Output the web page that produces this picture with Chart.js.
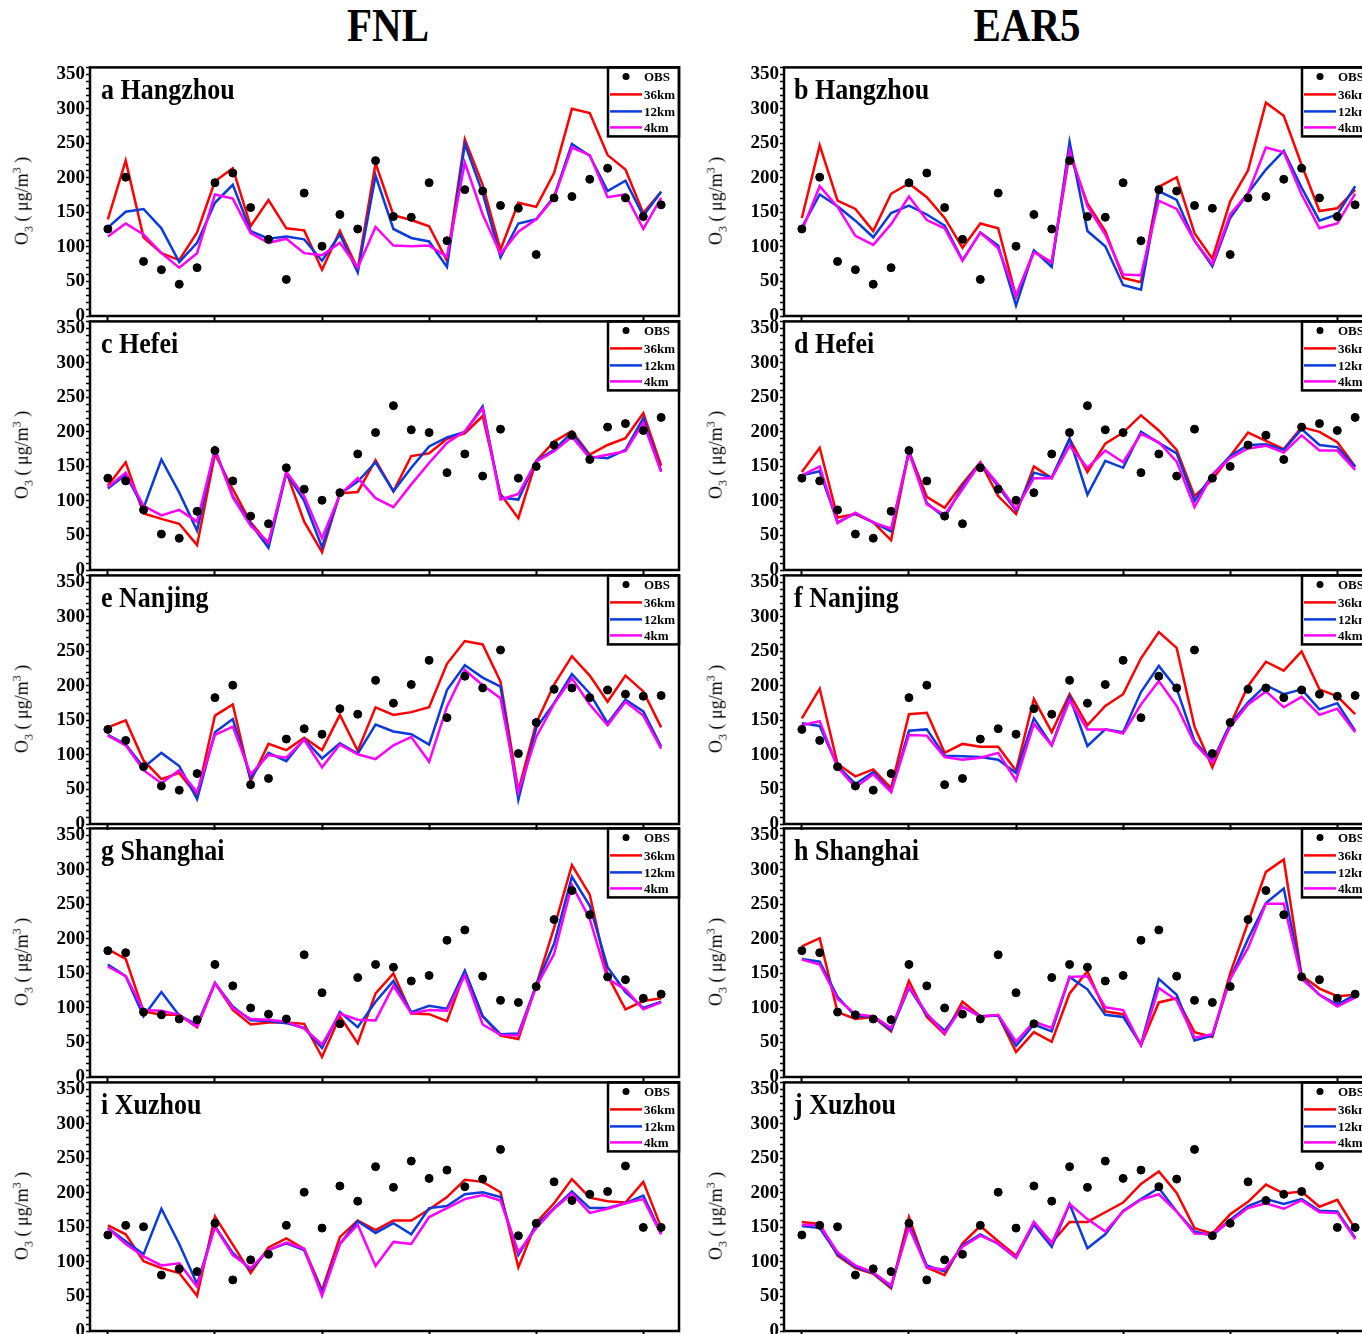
<!DOCTYPE html>
<html>
<head>
<meta charset="utf-8">
<script src="https://cdn.jsdelivr.net/npm/chart.js@4.4.1/dist/chart.umd.min.js"></script>
<style>
html, body { margin: 0; padding: 0; background: #fff; overflow: hidden; }
body { width: 1362px; height: 1334px; position: relative; }
canvas { position: absolute; }
.col-title { position: absolute; top: 8px; width: 300px; margin-left: -150px; text-align: center;
  font: bold 41px/41px "Liberation Serif", serif; color: #000; transform: scaleY(1.15); transform-origin: 50% 100%; }
.ytitle { position: absolute; white-space: nowrap; transform: translate(-50%, -50%) rotate(-90deg);
  font: 18px "Liberation Serif", serif; color: #000; }
.ytitle sub, .ytitle sup { font-size: 12px; }
</style>
</head>
<body>
<div class="col-title" style="left:388px">FNL</div>
<div class="col-title" style="left:1027px">EAR5</div>
<script>
// x positions (days) and the ticks shown on the x axis
var days = [1,2,3,4,5,6,7,8,9,10,11,12,13,14,15,16,17,18,19,20,21,22,23,24,25,26,27,28,29,30,31,32];
var majorDays = [1, 7, 13, 19, 25, 31];

// observed O3
var obsHangzhou = [126,201,79,67,46,70,193,207,157,111,53,178,101,147,126,225,144,143,193,109,183,181,160,156,89,171,173,198,214,171,144,161];
var obsHefei = [133,129,87,52,46,85,173,129,78,67,148,117,101,112,168,199,238,203,199,141,168,136,204,133,150,181,195,160,207,212,202,221];
var obsNanjing = [137,121,83,55,49,73,183,201,57,66,123,138,130,167,159,208,175,202,237,154,214,197,252,102,147,195,197,183,194,188,185,186];
var obsShanghai = [183,180,94,90,84,83,163,132,100,91,84,177,122,77,144,163,159,139,147,198,213,146,111,108,131,228,270,235,145,141,114,120];
var obsXuzhou = [139,153,151,81,90,86,156,74,103,111,153,201,149,210,188,238,208,246,221,233,209,220,263,138,156,216,189,198,202,239,150,150];

// FNL driven runs
var hangzhouFnl36 = [140,225,114,91,81,121,195,214,130,168,127,124,67,123,68,221,146,139,130,80,256,190,96,164,158,207,300,294,233,212,149,180];
var hangzhouFnl12 = [128,151,155,127,78,106,164,190,123,112,115,111,80,118,63,203,126,113,108,71,249,178,85,134,140,173,249,232,181,196,145,180];
var hangzhouFnl4 = [115,134,118,91,70,91,176,170,120,106,112,91,88,106,70,129,102,101,102,86,222,147,90,122,140,171,244,233,172,176,126,171];
var hefeiFnl36 = [122,156,82,74,67,36,168,117,69,38,142,70,26,111,113,159,114,165,169,190,198,223,110,75,158,186,201,167,181,191,227,151];
var hefeiFnl12 = [118,138,90,160,112,57,175,107,67,32,140,100,33,110,128,156,114,148,179,192,200,237,105,102,158,174,199,164,162,174,220,143];
var hefeiFnl4 = [120,141,93,79,87,70,174,105,64,40,142,107,46,109,133,104,91,124,155,184,201,234,102,110,157,172,193,162,167,172,213,142];
var nanjingFnl36 = [140,150,92,65,74,41,157,173,62,116,107,125,107,158,106,169,158,162,169,232,265,260,206,48,146,202,243,215,177,215,192,140];
var nanjingFnl12 = [129,115,82,103,84,36,133,152,67,103,91,123,95,117,102,144,134,130,115,194,230,212,199,35,139,175,217,189,146,180,163,112];
var nanjingFnl4 = [128,114,78,59,78,46,129,141,72,100,96,122,82,115,101,94,114,126,90,170,223,201,182,46,126,174,211,173,143,177,157,109];
var shanghaiFnl36 = [185,171,95,90,90,72,136,97,76,79,79,77,29,88,49,121,150,92,91,81,152,88,60,55,133,216,307,264,147,98,110,114];
var shanghaiFnl12 = [163,146,88,123,89,76,136,102,82,81,78,71,42,94,72,109,139,94,103,99,154,88,62,63,133,193,290,248,159,123,100,109];
var shanghaiFnl4 = [160,146,97,96,90,73,136,100,84,83,80,70,47,92,83,82,132,92,97,96,147,76,61,60,131,178,278,229,142,127,98,108];
var xuzhouFnl36 = [153,140,101,91,84,51,166,125,84,121,134,119,59,136,160,146,160,160,176,194,219,216,201,92,157,185,220,193,188,186,216,150];
var xuzhouFnl12 = [149,130,111,177,126,68,152,113,89,117,127,117,56,126,159,142,156,140,178,181,198,201,194,110,153,178,202,178,178,185,196,141];
var xuzhouFnl4 = [149,126,108,95,98,64,151,110,91,117,128,119,51,126,154,94,129,126,165,178,191,197,189,114,149,177,199,171,177,185,191,140];

// EAR5 driven runs
var hangzhouEra36 = [142,247,167,155,123,177,192,172,142,99,134,127,28,94,77,235,163,123,55,49,187,201,120,83,166,211,309,290,219,152,156,183];
var hangzhouEra12 = [128,176,159,138,114,149,160,147,131,81,121,102,15,95,71,252,123,101,45,38,181,168,109,72,142,178,212,239,186,138,147,188];
var hangzhouEra4 = [123,188,158,116,103,133,173,139,127,80,121,98,30,92,78,240,159,118,60,59,167,155,109,75,147,178,244,237,176,127,134,177];
var hefeiEra36 = [142,177,76,81,69,43,172,106,90,125,156,107,81,150,133,190,142,183,199,224,202,174,107,131,165,199,187,175,207,200,185,150];
var hefeiEra12 = [137,143,69,82,69,56,172,97,76,121,155,121,86,141,134,190,109,158,148,200,184,169,100,138,165,181,182,174,204,181,178,149];
var hefeiEra4 = [137,150,68,83,69,60,170,95,80,117,155,124,88,133,133,180,148,173,156,197,185,157,91,138,162,176,180,170,195,173,173,145];
var nanjingEra36 = [153,196,87,69,79,52,159,161,103,116,112,112,77,181,133,188,143,171,188,240,278,255,141,82,144,200,235,222,250,195,185,159];
var nanjingEra12 = [146,142,84,58,75,47,135,137,99,98,97,93,74,153,114,184,113,137,133,191,229,196,120,91,145,176,201,188,195,166,175,135];
var nanjingEra4 = [143,149,82,53,72,46,129,128,97,93,96,103,63,145,114,179,137,137,131,173,207,171,117,89,141,173,192,169,184,158,167,133];
var shanghaiEra36 = [189,201,94,84,87,66,139,87,62,109,88,89,36,65,51,121,153,95,91,46,108,114,65,58,150,224,297,315,147,128,117,119];
var shanghaiEra12 = [171,167,116,88,88,68,129,90,67,102,88,89,45,76,66,145,127,90,87,47,142,119,53,60,142,200,252,273,145,119,105,119];
var shanghaiEra4 = [170,163,113,91,88,71,131,92,63,102,87,90,51,80,71,145,146,101,97,46,129,111,57,62,142,187,251,251,142,119,102,115];
var xuzhouEra36 = [158,155,109,91,83,62,165,92,81,127,152,130,109,157,128,158,158,172,186,213,231,200,149,141,169,187,212,199,202,180,190,148];
var xuzhouEra12 = [152,149,111,93,84,64,154,95,86,124,140,126,106,154,122,184,120,140,174,191,207,173,144,138,161,181,191,184,191,174,173,135];
var xuzhouEra4 = [154,153,114,95,85,66,150,92,89,122,138,127,106,158,127,184,162,144,173,190,198,173,141,140,159,178,185,177,189,172,171,133];

var seriesNames = ["OBS", "36km", "12km", "4km"];

var panels = [
    { label: "a Hangzhou", col: 0, row: 0, obs: obsHangzhou, r36: hangzhouFnl36, r12: hangzhouFnl12, r4: hangzhouFnl4 },
    { label: "b Hangzhou", col: 1, row: 0, obs: obsHangzhou, r36: hangzhouEra36, r12: hangzhouEra12, r4: hangzhouEra4 },
    { label: "c Hefei", col: 0, row: 1, obs: obsHefei, r36: hefeiFnl36, r12: hefeiFnl12, r4: hefeiFnl4 },
    { label: "d Hefei", col: 1, row: 1, obs: obsHefei, r36: hefeiEra36, r12: hefeiEra12, r4: hefeiEra4 },
    { label: "e Nanjing", col: 0, row: 2, obs: obsNanjing, r36: nanjingFnl36, r12: nanjingFnl12, r4: nanjingFnl4 },
    { label: "f Nanjing", col: 1, row: 2, obs: obsNanjing, r36: nanjingEra36, r12: nanjingEra12, r4: nanjingEra4 },
    { label: "g Shanghai", col: 0, row: 3, obs: obsShanghai, r36: shanghaiFnl36, r12: shanghaiFnl12, r4: shanghaiFnl4 },
    { label: "h Shanghai", col: 1, row: 3, obs: obsShanghai, r36: shanghaiEra36, r12: shanghaiEra12, r4: shanghaiEra4 },
    { label: "i Xuzhou", col: 0, row: 4, obs: obsXuzhou, r36: xuzhouFnl36, r12: xuzhouFnl12, r4: xuzhouFnl4 },
    { label: "j Xuzhou", col: 1, row: 4, obs: obsXuzhou, r36: xuzhouEra36, r12: xuzhouEra12, r4: xuzhouEra4 }
];

// layout
var COL_LEFT = [0, 694];
var ROW_TOP = [65, 319, 573, 826, 1080];
var PLOT_H = 251;
var PAD_TOP = 10;
var X_AXIS_H = 14;
var Y_AXIS_W = 90;
var CANVAS_W = 690;

function toXY(values) {
    return values.map(function (v, i) {
        return { x: days[i], y: v };
    });
}

var panelDecor = {
    id: "panelDecor",
    afterDatasetsDraw: function (chart, args, opts) {
        var ctx = chart.ctx;
        var area = chart.chartArea;
        ctx.save();

        // legend box, top right inside the frame
        var boxW = 71, boxH = 69;
        var bx = area.right - boxW, by = area.top;
        var rowY = [9, 27, 44, 60];
        ctx.fillStyle = "#fff";
        ctx.fillRect(bx, by, boxW, boxH);
        ctx.lineWidth = 2.5;
        ctx.strokeStyle = "#000";
        ctx.strokeRect(bx, by, boxW, boxH);
        ctx.font = "bold 13px 'Liberation Serif'";
        ctx.textBaseline = "middle";
        chart.data.datasets.forEach(function (ds, i) {
            var y = by + rowY[i];
            if (ds.showLine === false) {
                ctx.beginPath();
                ctx.arc(bx + 18, y, 3.5, 0, Math.PI * 2);
                ctx.fillStyle = "#000";
                ctx.fill();
            } else {
                ctx.beginPath();
                ctx.moveTo(bx + 2, y);
                ctx.lineTo(bx + 34, y);
                ctx.strokeStyle = ds.borderColor;
                ctx.lineWidth = 2.5;
                ctx.stroke();
            }
            ctx.fillStyle = "#000";
            ctx.fillText(ds.label, bx + 36, y + 1);
        });

        // frame
        ctx.lineWidth = 2.5;
        ctx.strokeStyle = "#000";
        ctx.strokeRect(area.left, area.top, area.right - area.left, area.bottom - area.top);

        // panel label, a little taller like the original
        ctx.fillStyle = "#000";
        ctx.font = "bold 26px 'Liberation Serif'";
        ctx.textBaseline = "alphabetic";
        ctx.translate(area.left + opts.labelX, area.top + 32);
        ctx.scale(1, 1.12);
        ctx.fillText(opts.label, 0, 0);
        ctx.restore();
    }
};

panels.forEach(function (p) {
    var left = COL_LEFT[p.col];
    var top = ROW_TOP[p.row];

    var canvas = document.createElement("canvas");
    canvas.width = CANVAS_W;
    canvas.height = PAD_TOP + PLOT_H + X_AXIS_H;
    canvas.style.left = left + "px";
    canvas.style.top = (top - PAD_TOP) + "px";
    document.body.appendChild(canvas);

    var yt = document.createElement("div");
    yt.className = "ytitle";
    yt.innerHTML = "O<sub>3</sub> ( \u03bcg/m<sup>3</sup> )";
    yt.style.left = (left + 23) + "px";
    yt.style.top = (top + 136) + "px";
    document.body.appendChild(yt);

    new Chart(canvas.getContext("2d"), {
        type: "line",
        data: {
            datasets: [
                { label: seriesNames[0], data: toXY(p.obs), showLine: false, order: 0,
                  pointRadius: 4, pointBackgroundColor: "#000", pointBorderColor: "#000", borderColor: "#000" },
                { label: seriesNames[1], data: toXY(p.r36), order: 3, borderColor: "#ff0000",
                  borderWidth: 2.5, pointRadius: 0, tension: 0 },
                { label: seriesNames[2], data: toXY(p.r12), order: 2, borderColor: "#0b3bdc",
                  borderWidth: 2.5, pointRadius: 0, tension: 0 },
                { label: seriesNames[3], data: toXY(p.r4), order: 1, borderColor: "#ff00ff",
                  borderWidth: 2.5, pointRadius: 0, tension: 0 }
            ]
        },
        options: {
            responsive: false,
            animation: false,
            layout: { padding: { top: PAD_TOP, right: 11, left: 0, bottom: 0 }, autoPadding: false },
            plugins: {
                legend: { display: false },
                tooltip: { enabled: false },
                panelDecor: { label: p.label, labelX: p.col === 0 ? 11 : 10 }
            },
            scales: {
                x: {
                    type: "linear",
                    min: 0,
                    max: 33,
                    afterBuildTicks: function (scale) {
                        scale.ticks = majorDays.map(function (d) { return { value: d }; });
                    },
                    afterFit: function (scale) { scale.height = X_AXIS_H; },
                    ticks: { display: false },
                    grid: { drawOnChartArea: false, tickLength: 6, tickWidth: 2, tickColor: "#000" },
                    border: { display: false }
                },
                y: {
                    min: 0,
                    max: 360,
                    afterFit: function (scale) { scale.width = Y_AXIS_W; },
                    ticks: {
                        stepSize: 10,
                        autoSkip: false,
                        padding: 1,
                        color: "#000",
                        font: { family: "Liberation Serif", size: 19, weight: "bold" },
                        callback: function (v) { return v % 50 === 0 ? v : ""; }
                    },
                    grid: { drawOnChartArea: false, tickLength: 4, tickWidth: 1.5, tickColor: "#000" },
                    border: { display: false }
                }
            }
        },
        plugins: [panelDecor]
    });
});
</script>
</body>
</html>
